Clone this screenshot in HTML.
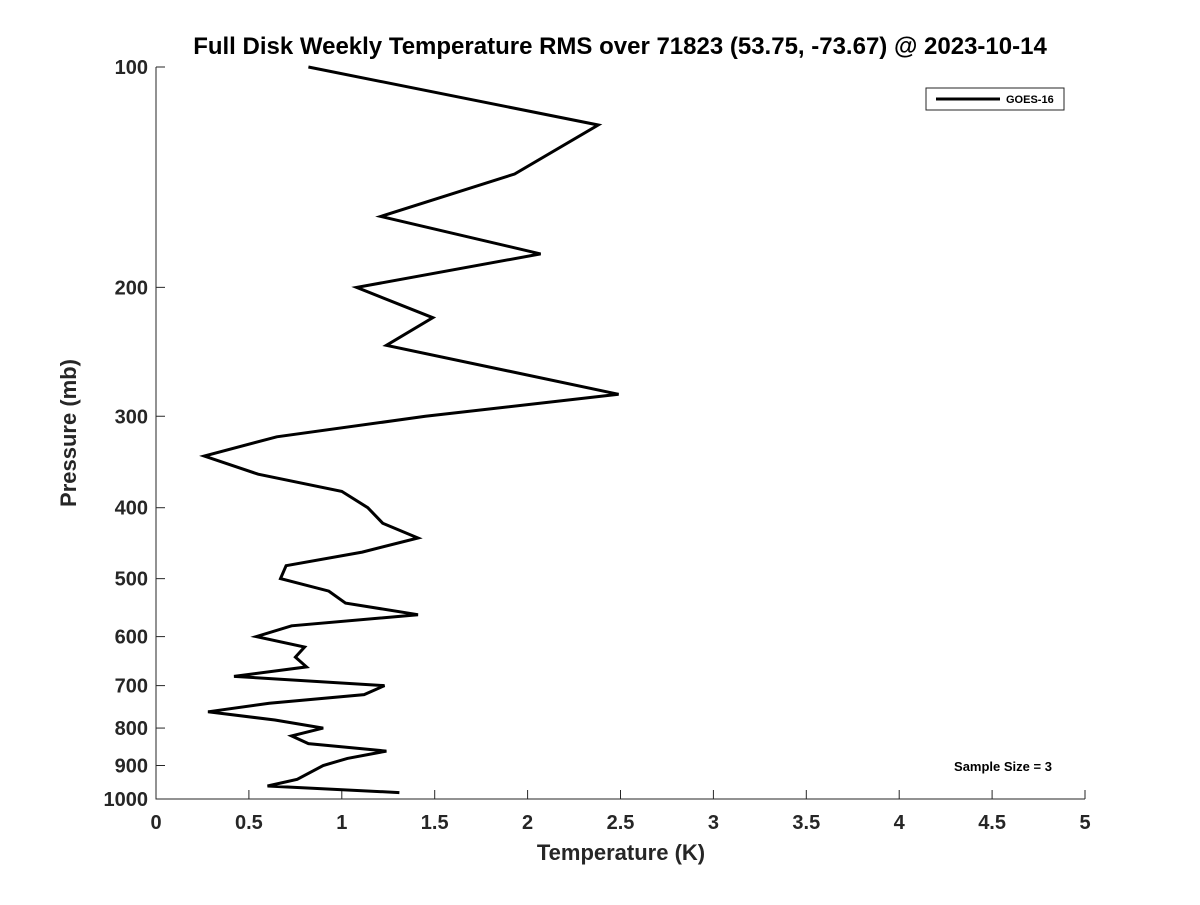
<!DOCTYPE html>
<html><head><meta charset="utf-8"><style>
body{margin:0;background:#fff;}
svg{font-family:"Liberation Sans","DejaVu Sans",sans-serif;}
</style></head><body>
<svg id="chart" width="1200" height="900" xmlns="http://www.w3.org/2000/svg">
<rect width="1200" height="900" fill="#fff"/>
<text x="620" y="54" text-anchor="middle" font-size="24" font-weight="bold" fill="#000">Full Disk Weekly Temperature RMS over 71823 (53.75, -73.67) @ 2023-10-14</text>
<g id="axes"></g>
<text x="621" y="860" text-anchor="middle" font-size="22" font-weight="bold" fill="#262626">Temperature (K)</text>
<text transform="translate(76,433) rotate(-90)" text-anchor="middle" font-size="22" font-weight="bold" fill="#262626">Pressure (mb)</text>
<g>
<rect x="926" y="88" width="138" height="22" fill="#fff" stroke="#262626" stroke-width="1"/>
<line x1="936" y1="99" x2="1000" y2="99" stroke="#000" stroke-width="3"/>
<text x="1006" y="103" font-size="11" font-weight="bold" fill="#000">GOES-16</text>
</g>
<text x="1003" y="771" text-anchor="middle" font-size="13" font-weight="bold" fill="#000">Sample Size = 3</text>
</svg>
<script>
const temps=[0.82,2.38,1.93,1.21,2.07,1.08,1.49,1.24,2.49,1.45,0.65,0.26,0.55,1.0,1.14,1.22,1.41,1.11,0.70,0.67,0.93,1.02,1.41,0.73,0.54,0.80,0.75,0.81,0.42,1.23,1.12,0.61,0.28,0.64,0.90,0.73,0.82,1.24,1.03,0.90,0.76,0.60,1.31];
const pressures=[100,120,140,160,180,200,220,240,280,300,320,340,360,380,400,420,440,460,480,500,520,540,560,580,600,620,640,660,680,700,720,740,760,780,800,820,840,860,880,900,940,960,980];
const xTicks=[0,0.5,1,1.5,2,2.5,3,3.5,4,4.5,5];
const yTicks=[100,200,300,400,500,600,700,800,900,1000];
const NS="http://www.w3.org/2000/svg";
const X0=156,X1=1085,Y0=67,Y1=799;
function xs(v){return X0+(v-0)/(5-0)*(X1-X0);}
function ys(p){return Y0+Math.log10(p/100)*(Y1-Y0);}
const g=document.getElementById('axes');
function mk(t,a){const e=document.createElementNS(NS,t);for(const k in a)e.setAttribute(k,a[k]);g.appendChild(e);return e;}
let ax=mk('path',{d:`M${X0},${Y0}L${X0},${Y1}L${X1},${Y1}`,fill:'none',stroke:'#262626','stroke-width':1});


xTicks.forEach(v=>{const x=xs(v);
 const l=mk('line',{x1:x,y1:Y1,x2:x,y2:Y1-9,stroke:'#262626'});
 
 
 const t=mk('text',{x:x,y:Y1+30,'text-anchor':'middle','font-size':20,'font-weight':'bold',fill:'#262626'});
 t.textContent=String(v);
 
 
});
yTicks.forEach(v=>{const y=ys(v);
 const l=mk('line',{x1:X0,y1:y,x2:X0+9,y2:y,stroke:'#262626'});
 
 
 const t=mk('text',{x:X0-8,y:y+7,'text-anchor':'end','font-size':20,'font-weight':'bold',fill:'#262626'});
 t.textContent=String(v);
 
 
});
const d=temps.map((t,i)=>(i?'L':'M')+xs(t).toFixed(1)+','+ys(pressures[i]).toFixed(1)).join('');
const line=mk('path',{d:d,fill:'none',stroke:'#000','stroke-width':3,'stroke-linejoin':'miter'});


</script>
</body></html>
